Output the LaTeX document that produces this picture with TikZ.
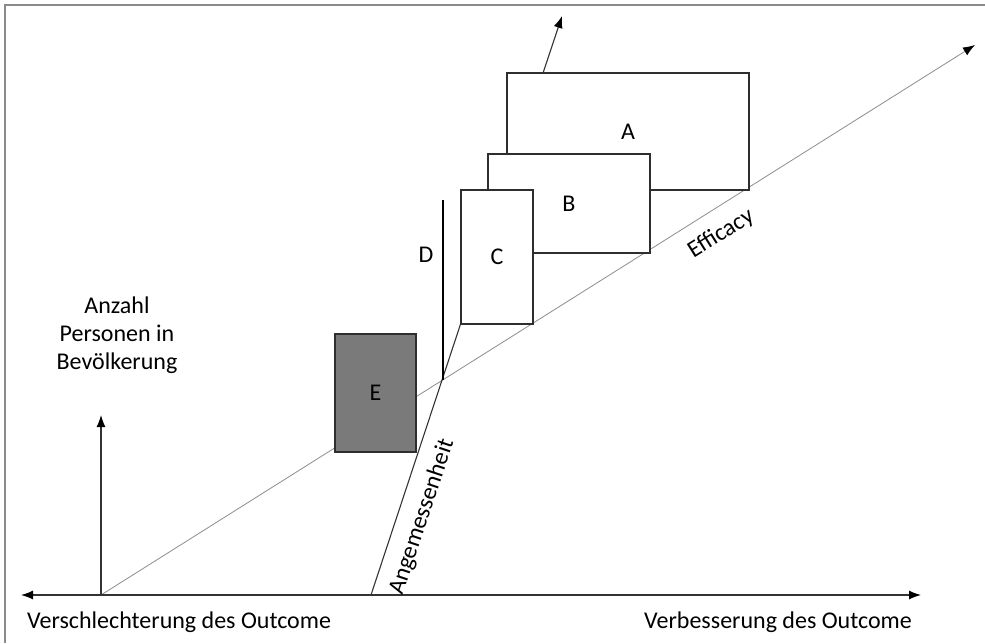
\documentclass[tikz,border=0pt]{standalone}
\usepackage{fontspec}
\setmainfont{Carlito}
\usetikzlibrary{arrows.meta,calc}

\definecolor{frame}{HTML}{8A8A8A}
\definecolor{axis}{HTML}{333333}
\definecolor{effline}{HTML}{8C8C8C}
\definecolor{boxline}{HTML}{2E2E2E}
\definecolor{efill}{HTML}{7A7A7A}

\tikzset{
  lbl/.style={font=\fontsize{24}{28}\selectfont, text=black, inner sep=0pt},
  region/.style={draw=boxline, line width=1.3pt, fill=white, inner sep=0pt,
                 font=\fontsize{24}{28}\selectfont, text=black},
  axisline/.style={draw=axis, line width=1.2pt},
  tip/.style={-{Latex[length=12pt,width=9pt,color=black]}},
}

\begin{document}
\begin{tikzpicture}[x=1pt,y=-1pt]
  \useasboundingbox (0,0) rectangle (985,643);

  % frame on top and left
  \draw[frame, line width=1.6pt] (5,643) -- (5,5) -- (985,5);

  % key points
  \coordinate (origin) at (101,595);
  \coordinate (xleft)  at (21,595);
  \coordinate (xright) at (921,595);
  \coordinate (ytop)   at (101,415);
  \coordinate (efftip) at (975,45);
  \coordinate (angfoot) at (371,595);
  \coordinate (dtop)   at (443,200);
  \coordinate (dbot)   at (443,380);
  \coordinate (atail)  at (543,73);
  \coordinate (ahead)  at (562,16);

  % efficacy diagonal
  \draw[effline, line width=0.8pt, tip] (origin) -- (efftip);

  % boxes stacked along the diagonal
  \node[region, minimum width=242pt, minimum height=117pt] (A) at (628,131.5) {A};
  \node[region, minimum width=162pt, minimum height=99pt]  (B) at (569,203.5) {B};
  \node[region, minimum width=72pt,  minimum height=134pt] (C) at (497,257)   {C};
  \node[region, fill=efill, minimum width=81pt, minimum height=118pt] (E) at (375.5,393) {E};

  % arrow leaving box A
  \draw[axisline, line width=1.1pt, tip] (atail) -- (ahead);

  % appropriateness line
  \draw[axisline, line width=1.1pt] (angfoot) -- (C.south west);

  % D marker
  \draw[draw=black, line width=1.8pt] (dtop) -- (dbot);
  \node[lbl] (D) at (426,255) {D};

  % axes
  \draw[axisline, {Latex[length=12pt,width=9pt,color=black]}-{Latex[length=12pt,width=9pt,color=black]}] (xleft) -- (xright);
  \draw[axisline, tip] (origin) -- (ytop);

  % labels
  \node[lbl, align=center] (ylabel) at (117,335) {Anzahl\\Personen in\\Bevölkerung};
  \node[lbl, anchor=base west] (worse) at (27,628) {Verschlechterung des Outcome};
  \node[lbl, anchor=base east] (better) at (912,628) {Verbesserung des Outcome};
  \node[lbl, rotate=71.6] (ang) at (422,517) {Angemessenheit};
  \node[lbl, rotate=32.1] (eff) at (721,234) {Efficacy};
\end{tikzpicture}
\end{document}
